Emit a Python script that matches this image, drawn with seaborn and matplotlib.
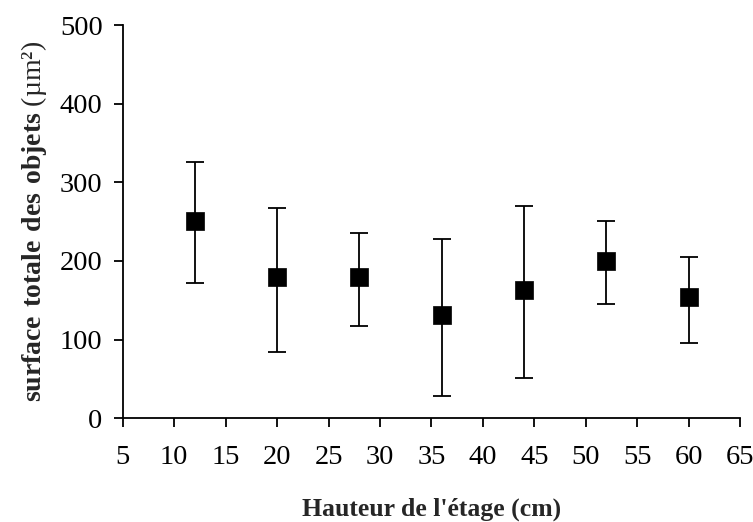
import numpy as np
import pandas as pd
import matplotlib
matplotlib.use("Agg")
import matplotlib.pyplot as plt
import seaborn as sns

# Data
hauteur = [12, 20, 28, 36, 44, 52, 60]
surface = [251, 179, 179, 131, 163, 200, 154]
err_haut = [326, 267, 235, 228, 270, 251, 205]
err_bas = [172, 84, 117, 28, 51, 145, 96]

sns.set_style("ticks")
plt.rcParams.update({
    'font.family': ['Liberation Serif', 'DejaVu Serif'],
    'mathtext.fontset': 'custom',
    'mathtext.rm': 'Liberation Serif',
    'mathtext.bf': 'Liberation Serif:bold',
    'axes.edgecolor': 'black',
    'axes.linewidth': 1.3,
    'xtick.color': 'black',
    'ytick.color': 'black',
})

df = pd.DataFrame({'hauteur': hauteur, 'surface': surface,
                   'haut': err_haut, 'bas': err_bas})

fig = plt.figure(figsize=(7.53, 5.22), dpi=100)
ax = fig.add_axes([0.163, 0.199, 0.82, 0.753])

yerr = np.array([df['surface'] - df['bas'], df['haut'] - df['surface']])
ax.errorbar(df['hauteur'], df['surface'], yerr=yerr, fmt='none',
            ecolor='black', elinewidth=1.3, capsize=6.5, capthick=1.3, zorder=2)
sns.scatterplot(data=df, x='hauteur', y='surface', marker='s', s=170,
                color='black', edgecolor='black', linewidth=0.5, ax=ax, zorder=3)

ax.set_xlim(5, 65)
ax.set_ylim(0, 500)
ax.set_xticks(np.arange(5, 66, 5))
ax.set_yticks(np.arange(0, 501, 100))
ax.tick_params(axis='both', labelsize=20.5, length=6.5, width=1.3)
ax.tick_params(axis='x', pad=13)
ax.tick_params(axis='y', pad=8)
sns.despine(ax=ax)

ax.set_xlabel("Hauteur de l'étage (cm)", fontsize=18.5, fontweight='bold', labelpad=20)
ax.set_ylabel(r"$\mathbf{surface\ totale\ des\ objets}$ (µm²)", fontsize=20, labelpad=8)

fig.savefig("out.png", dpi=100)
